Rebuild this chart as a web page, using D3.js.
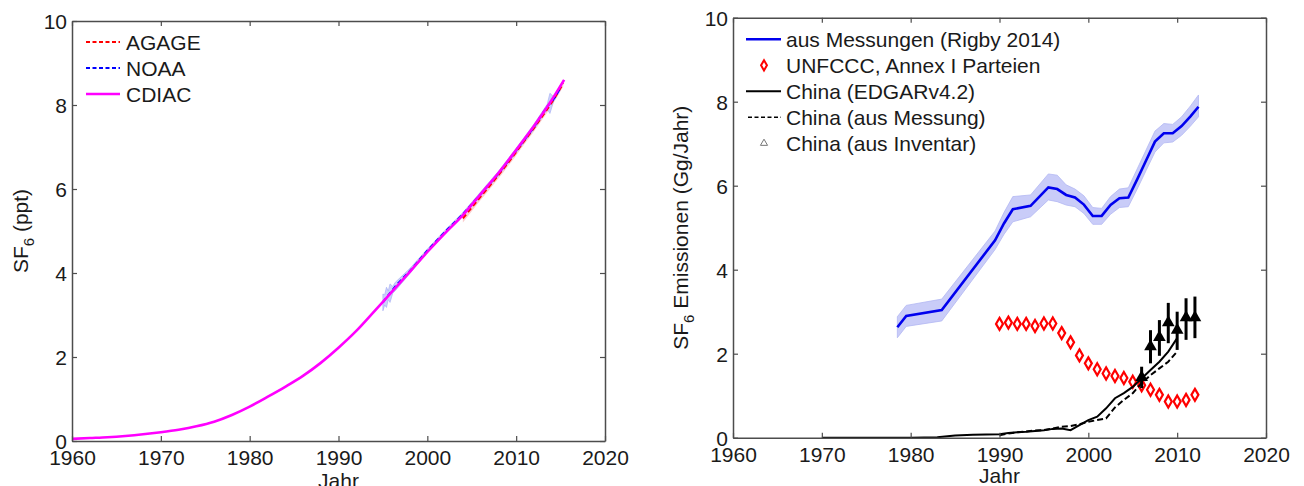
<!DOCTYPE html>
<html><head><meta charset="utf-8">
<script src="https://cdn.jsdelivr.net/npm/d3@7"></script>
<style>
html,body{margin:0;padding:0;background:#fff;}
svg{display:block;font-family:"Liberation Sans",Arial,sans-serif;}
</style></head>
<body>
<svg id="chart" width="1304" height="486"></svg>
<script>
// ---------- Left panel data (SF6 mole fraction, ppt) ----------
const cdiacYears  = [1960,1962,1964,1966,1968,1970,1972,1974,1976,1978,1980,1982,1984,1986,1988,1990,1992,1994,1996,1998,2000,2002,2004,2006,2008,2010,2012,2014,2015.4];
const cdiacValues = [0.05,0.07,0.09,0.12,0.16,0.21,0.27,0.35,0.46,0.62,0.82,1.05,1.29,1.55,1.86,2.22,2.62,3.08,3.55,4.02,4.50,4.95,5.38,5.88,6.38,6.93,7.50,8.12,8.60];
const noaaYears   = [1995,1995.2,1995.4,1995.6,1995.8,1996.1,1996.4,1998,2000,2002,2004,2006,2008,2010,2012,2013.5,2013.8,2014.2,2015];
const noaaValues  = [3.30,3.36,3.42,3.47,3.52,3.60,3.68,4.04,4.53,4.98,5.40,5.88,6.37,6.92,7.48,7.96,8.04,8.14,8.42];
const noaaSpread  = [0.20,0.12,0.24,0.10,0.22,0.08,0.10,0.06,0.04,0.04,0.04,0.05,0.05,0.05,0.06,0.06,0.24,0.06,0.05];
const agageYears  = [2004,2005,2006,2007,2008,2009,2010,2011,2012,2013,2014,2015.3];
const agageValues = [5.30,5.56,5.82,6.07,6.33,6.60,6.88,7.17,7.45,7.75,8.06,8.52];
const agageSpread = [0.10,0.09,0.08,0.08,0.08,0.08,0.08,0.08,0.08,0.08,0.08,0.08];
const leftSeries  = ["AGAGE","NOAA","CDIAC"];

// ---------- Right panel data (SF6 emissions, Gg/Jahr) ----------
const rigbyYears  = [1978.5,1979.5,1983.5,1989.5,1990.5,1991.5,1993.5,1995.5,1996.5,1997.5,1998.5,1999.5,2000.5,2001.5,2002.5,2003.5,2004.5,2005.5,2006.5,2007.5,2008.5,2009.5,2010.5,2011.5,2012.4];
const rigbyValues = [2.63,2.90,3.04,4.70,5.10,5.44,5.52,5.96,5.92,5.78,5.72,5.55,5.28,5.28,5.54,5.70,5.72,6.15,6.60,7.05,7.25,7.25,7.42,7.65,7.88];
const rigbyUpper  = [2.88,3.15,3.30,4.92,5.36,5.74,5.78,6.28,6.25,6.02,5.92,5.76,5.48,5.46,5.74,5.92,5.95,6.40,6.85,7.30,7.48,7.46,7.64,7.90,8.16];
const rigbyLower  = [2.38,2.65,2.78,4.48,4.84,5.14,5.26,5.66,5.62,5.54,5.50,5.34,5.08,5.08,5.32,5.48,5.50,5.92,6.36,6.80,7.02,7.04,7.20,7.42,7.64];
const unfcccYears  = [1990,1991,1992,1993,1994,1995,1996,1997,1998,1999,2000,2001,2002,2003,2004,2005,2006,2007,2008,2009,2010,2011,2012];
const unfcccValues = [2.71,2.74,2.71,2.71,2.66,2.72,2.72,2.49,2.27,1.96,1.77,1.63,1.53,1.47,1.42,1.33,1.25,1.14,1.02,0.86,0.86,0.90,1.02];
const edgarYears  = [1970,1975,1980,1983,1985,1987,1990,1991,1992,1993,1994,1995,1996,1997,1998,1999,2000,2001,2002,2003,2004,2005,2006,2007,2008,2009,2010];
const edgarValues = [0.00,0.00,0.00,0.01,0.05,0.07,0.08,0.11,0.13,0.14,0.16,0.18,0.21,0.22,0.18,0.30,0.42,0.50,0.70,0.94,1.06,1.21,1.41,1.61,1.81,2.05,2.37];
const messYears   = [1990,1991,1992,1993,1994,1995,1996,1997,1998,1999,2000,2001,2002,2003,2004,2005,2006,2007,2008,2009,2010];
const messValues  = [0.06,0.10,0.13,0.15,0.17,0.18,0.22,0.26,0.28,0.32,0.38,0.42,0.46,0.72,0.90,1.06,1.30,1.49,1.65,1.81,2.05];
const invYears    = [2006,2007,2008,2009,2010,2011,2012];
const invValues   = [1.44,2.17,2.39,2.74,2.56,2.86,2.86];
const invLow      = [1.18,1.77,1.95,2.25,2.09,2.33,2.37];
const invHigh     = [1.69,2.56,2.80,3.21,3.00,3.32,3.36];
const rightSeries = ["aus Messungen (Rigby 2014)","UNFCCC, Annex I Parteien","China (EDGARv4.2)","China (aus Messung)","China (aus Inventar)"];

const xTicks = [1960,1970,1980,1990,2000,2010,2020];
const yTicks = [0,2,4,6,8,10];

const svg = d3.select("#chart");
const FONT = 21;
const AX = "#4d4d4d";

function frame(g, x, y, xLabel, labelOffset) {
  const [x0,x1] = x.range(); const [y0,y1] = y.range();
  const bottom = g.append("g").attr("transform",`translate(0,${y0})`)
    .call(d3.axisBottom(x).tickValues(xTicks).tickFormat(d3.format("d")).tickSizeInner(-5).tickSizeOuter(0).tickPadding(9));
  const left = g.append("g").attr("transform",`translate(${x0},0)`)
    .call(d3.axisLeft(y).tickValues(yTicks).tickFormat(d3.format("d")).tickSizeInner(-5).tickSizeOuter(0).tickPadding(5));
  const top = g.append("g").attr("transform",`translate(0,${y1})`)
    .call(d3.axisTop(x).tickValues(xTicks).tickFormat("").tickSizeInner(-5).tickSizeOuter(0));
  const right = g.append("g").attr("transform",`translate(${x1},0)`)
    .call(d3.axisRight(y).tickValues(yTicks).tickFormat("").tickSizeInner(-5).tickSizeOuter(0));
  [bottom,left,top,right].forEach(a=>{
    a.selectAll("path.domain").attr("stroke",AX).attr("stroke-width",1.5);
    a.selectAll(".tick line").attr("stroke",AX).attr("stroke-width",1.2);
    a.selectAll("text").attr("fill","#1a1a1a").style("font-size",FONT+"px").style("font-family",'"Liberation Sans",Arial,sans-serif');
  });
  bottom.selectAll("text").attr("dy","0.71em");
  left.selectAll("text").attr("dy","0.36em");
  g.append("text").attr("x",(x0+x1)/2).attr("y",y0+labelOffset).attr("text-anchor","middle")
    .style("font-size",FONT+"px").attr("fill","#1a1a1a").text(xLabel);
  return {x0,x1,y0,y1};
}

function yTitle(g, cx, cy, rest) {
  const t = g.append("text").attr("transform",`translate(${cx},${cy}) rotate(-90)`)
    .attr("text-anchor","middle").style("font-size",FONT+"px").attr("fill","#1a1a1a");
  t.append("tspan").text("SF");
  t.append("tspan").attr("dy","0.4em").style("font-size","15px").text("6");
  t.append("tspan").attr("dy","-0.3em").text(rest);
}

// ================= Left panel =================
const xL = d3.scaleLinear().domain([1960,2020]).range([72,605]);
const yL = d3.scaleLinear().domain([0,10]).range([441,21]);
const gL = svg.append("g");
const clipL = svg.append("clipPath").attr("id","clipL");
clipL.append("rect").attr("x",72).attr("y",21).attr("width",533).attr("height",420);
const pL = gL.append("g").attr("clip-path","url(#clipL)");

const noaa = noaaYears.map((y,i)=>({x:y,v:noaaValues[i],s:noaaSpread[i]}));
const agage = agageYears.map((y,i)=>({x:y,v:agageValues[i],s:agageSpread[i]}));
const cdiac = cdiacYears.map((y,i)=>({x:y,v:cdiacValues[i]}));

pL.append("path").datum(agage).attr("fill","#f9c0c0").attr("opacity",0.8)
  .attr("d",d3.area().x(d=>xL(d.x)).y0(d=>yL(d.v-d.s)).y1(d=>yL(d.v+d.s)).curve(d3.curveMonotoneX));
pL.append("path").datum(noaa).attr("fill","#c4cbfa").attr("stroke","#9aa4f2").attr("stroke-width",0.7).attr("opacity",0.85)
  .attr("d",d3.area().x(d=>xL(d.x)).y0(d=>yL(d.v-d.s)).y1(d=>yL(d.v+d.s)).curve(d3.curveLinear));
pL.append("path").datum(agage).attr("fill","none").attr("stroke","#ff0000").attr("stroke-width",2).attr("stroke-dasharray","5,3")
  .attr("d",d3.line().x(d=>xL(d.x)).y(d=>yL(d.v)).curve(d3.curveMonotoneX));
pL.append("path").datum(noaa).attr("fill","none").attr("stroke","#0000ff").attr("stroke-width",2).attr("stroke-dasharray","5,3")
  .attr("d",d3.line().x(d=>xL(d.x)).y(d=>yL(d.v)).curve(d3.curveMonotoneX));
pL.append("path").datum(cdiac).attr("fill","none").attr("stroke","#ff00ff").attr("stroke-width",2.6)
  .attr("d",d3.line().x(d=>xL(d.x)).y(d=>yL(d.v)).curve(d3.curveMonotoneX));

frame(gL, xL, yL, "Jahr", 47);
yTitle(gL, 28, 231, " (ppt)");

// Left legend
const legL = gL.append("g");
const legLStyles = [{c:"#ff0000",dash:"4,2.5",w:2},{c:"#0000ff",dash:"4,2.5",w:2},{c:"#ff00ff",dash:null,w:2.6}];
leftSeries.forEach((name,i)=>{
  const yy = 42 + i*26;
  legL.append("line").attr("x1",86).attr("x2",120).attr("y1",yy).attr("y2",yy)
    .attr("stroke",legLStyles[i].c).attr("stroke-width",legLStyles[i].w)
    .attr("stroke-dasharray",legLStyles[i].dash);
  legL.append("text").attr("x",126).attr("y",yy+7.5).style("font-size",FONT+"px").attr("fill","#1a1a1a").text(name);
});

// ================= Right panel =================
const xR = d3.scaleLinear().domain([1960,2020]).range([733,1266]);
const yR = d3.scaleLinear().domain([0,10]).range([437.7,17.7]);
const gR = svg.append("g");
const pR = gR.append("g");

const rig = rigbyYears.map((y,i)=>({x:y,v:rigbyValues[i],lo:rigbyLower[i],hi:rigbyUpper[i]}));
pR.append("path").datum(rig).attr("fill","#c9ccf8").attr("stroke","#b3b8f2").attr("stroke-width",0.8)
  .attr("d",d3.area().x(d=>xR(d.x)).y0(d=>yR(d.lo)).y1(d=>yR(d.hi)));
pR.append("path").datum(rig).attr("fill","none").attr("stroke","#0000ee").attr("stroke-width",2.6)
  .attr("d",d3.line().x(d=>xR(d.x)).y(d=>yR(d.v)));

const diamond = d3.symbol().type(d3.symbolDiamond).size(42);
pR.selectAll("path.unf").data(unfcccYears.map((y,i)=>({x:y,v:unfcccValues[i]}))).join("path")
  .attr("class","unf").attr("d",diamond).attr("transform",d=>`translate(${xR(d.x)},${yR(d.v)})`)
  .attr("fill","#fff").attr("stroke","#ff0000").attr("stroke-width",2.2);

pR.append("path").datum(edgarYears.map((y,i)=>({x:y,v:edgarValues[i]}))).attr("fill","none").attr("stroke","#000").attr("stroke-width",2)
  .attr("d",d3.line().x(d=>xR(d.x)).y(d=>yR(d.v)));
pR.append("path").datum(messYears.map((y,i)=>({x:y,v:messValues[i]}))).attr("fill","none").attr("stroke","#000").attr("stroke-width",2)
  .attr("stroke-dasharray","6,3")
  .attr("d",d3.line().x(d=>xR(d.x)).y(d=>yR(d.v)));

const inv = invYears.map((y,i)=>({x:y,v:invValues[i],lo:invLow[i],hi:invHigh[i]}));
pR.selectAll("line.err").data(inv).join("line").attr("class","err")
  .attr("x1",d=>xR(d.x)).attr("x2",d=>xR(d.x)).attr("y1",d=>yR(d.lo)).attr("y2",d=>yR(d.hi))
  .attr("stroke","#000").attr("stroke-width",3);
const tri = d3.symbol().type(d3.symbolTriangle).size(70);
pR.selectAll("path.inv").data(inv).join("path").attr("class","inv").attr("d",tri)
  .attr("transform",d=>`translate(${xR(d.x)},${yR(d.v)})`).attr("fill","#000");

frame(gR, xR, yR, "Jahr", 45);
yTitle(gR, 688, 227.7, " Emissionen (Gg/Jahr)");

// Right legend
const legR = gR.append("g");
rightSeries.forEach((name,i)=>{
  const yy = 39.3 + i*26;
  if (i===0) legR.append("line").attr("x1",746).attr("x2",781).attr("y1",yy).attr("y2",yy).attr("stroke","#0000ee").attr("stroke-width",2.6);
  if (i===1) legR.append("path").attr("d",d3.symbol().type(d3.symbolDiamond).size(30)).attr("transform",`translate(764,${yy})`)
    .attr("fill","#fff").attr("stroke","#ff0000").attr("stroke-width",2);
  if (i===2) legR.append("line").attr("x1",746).attr("x2",781).attr("y1",yy).attr("y2",yy).attr("stroke","#000").attr("stroke-width",2);
  if (i===3) legR.append("line").attr("x1",748).attr("x2",781).attr("y1",yy).attr("y2",yy).attr("stroke","#000").attr("stroke-width",1.6).attr("stroke-dasharray","4,2.5");
  if (i===4) legR.append("path").attr("d",d3.symbol().type(d3.symbolTriangle).size(22)).attr("transform",`translate(764,${yy})`)
    .attr("fill","none").attr("stroke","#777").attr("stroke-width",1);
  legR.append("text").attr("x",786).attr("y",yy+7.5).style("font-size",FONT+"px").attr("fill","#1a1a1a").text(name);
});
</script>
</body></html>
